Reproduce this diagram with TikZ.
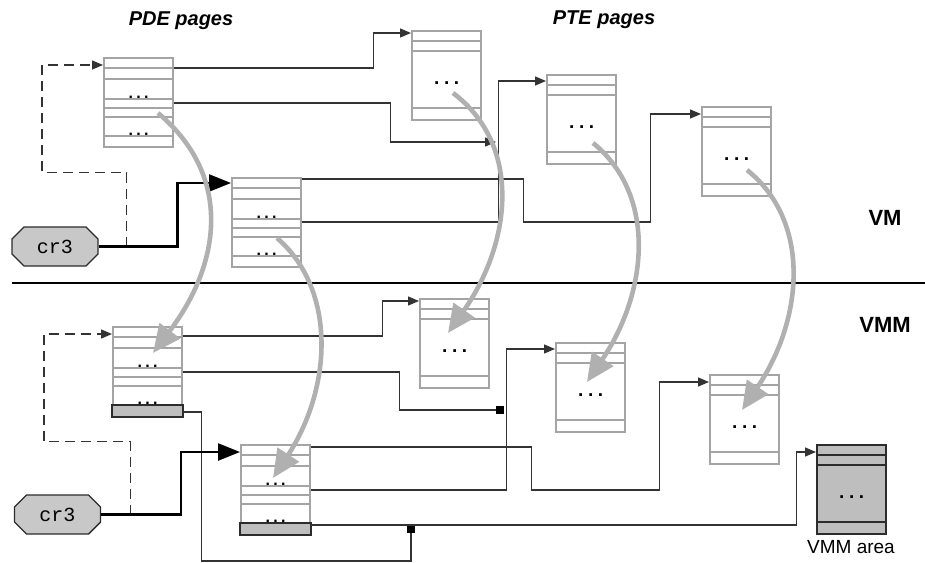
\documentclass[tikz,border=0pt]{standalone}
\usepackage{fontspec}
\newfontfamily\arialfont{Liberation Sans}
\newfontfamily\courfont{Liberation Mono}
\usetikzlibrary{arrows.meta,calc,shapes.misc}
\definecolor{boxgray}{HTML}{A4A4A4}
\definecolor{conngray}{HTML}{333333}
\definecolor{curvegray}{HTML}{B0B0B0}
\definecolor{fillgray}{HTML}{C8C8C8}
\definecolor{darkfill}{HTML}{BEBEBE}
\definecolor{darkline}{HTML}{2C2C2C}
\newcommand\mydots[1]{.\kern#1.\kern#1.}
\newcommand\pdepage[3]{%
  \node[page] (#1) at (#2,#3) {};
  \foreach \o in {11,22,42,51,60,79} \draw[pline] ($(#1.north west)+(0,\o)$) -- ($(#1.north east)+(0,\o)$);
  \node[pdedots] (#1a) at ($(#1.north)+(0,41.5)$) {\mydots{3.25pt}};
  \node[pdedots] (#1b) at ($(#1.north)+(0,78.5)$) {\mydots{3.25pt}};
}
\newcommand\ptepage[3]{%
  \node[page] (#1) at (#2,#3) {};
  \foreach \o in {11,21,78} \draw[pline] ($(#1.north west)+(0,\o)$) -- ($(#1.north east)+(0,\o)$);
  \node[ptedots] (#1a) at ($(#1.north)+(0,54)$) {\mydots{4.5pt}};
}
\begin{document}
\begin{tikzpicture}[x=1pt,y=-1pt,
  page/.style={draw=boxgray,line width=2.3pt,fill=white,minimum width=69pt,minimum height=89pt,inner sep=0pt,anchor=north west},
  vmmpage/.style={draw=darkline,line width=2.3pt,fill=darkfill,minimum width=69pt,minimum height=89pt,inner sep=0pt,anchor=north west},
  pline/.style={draw=boxgray,line width=2.3pt},
  dline/.style={draw=darkline,line width=2.3pt},
  darkrow/.style={draw=darkline,fill=darkfill,line width=2.3pt},
  pdedots/.style={font=\arialfont\bfseries\fontsize{16}{16}\selectfont,inner sep=0pt,anchor=base,text=black},
  ptedots/.style={font=\arialfont\bfseries\fontsize{19}{19}\selectfont,inner sep=0pt,anchor=base,text=black},
  conn/.style={draw=conngray,line width=1.4pt},
  thintip/.style={-{Triangle[length=11pt,width=9pt]}},
  thickconn/.style={draw=black,line width=2.5pt,-{Triangle[length=22pt,width=17pt]}},
  dashconn/.style={draw=conngray,line width=1.4pt,dash pattern=on 10pt off 6pt},
  jsq/.style={fill=black,minimum size=8pt,inner sep=0pt},
  cr3box/.style={chamfered rectangle,chamfered rectangle xsep=6pt,chamfered rectangle ysep=6pt,draw=darkline,line width=1.4pt,fill=fillgray,minimum width=86pt,minimum height=39pt,inner sep=0pt,font=\courfont\fontsize{20}{20}\selectfont},
  gcurve/.style={draw=curvegray,line width=4.6pt,-{Triangle[length=28pt,width=25pt]}},
  lblit/.style={font=\arialfont\bfseries\itshape\fontsize{20}{20}\selectfont,anchor=base,inner sep=0pt},
  lblbf/.style={font=\arialfont\bfseries\fontsize{22}{22}\selectfont,anchor=base,inner sep=0pt},
  lblrm/.style={font=\arialfont\fontsize{19}{19}\selectfont,anchor=base,inner sep=0pt}
]
\useasboundingbox (0,0) rectangle (925,562);

% labels
\node[lblit] (L1) at (181,25) {PDE pages};
\node[lblit] (L2) at (604,24) {PTE pages};
\node[lblbf] (L3) at (885,225) {VM};
\node[lblbf] (L4) at (885,332) {VMM};

% divider
\coordinate (DL) at (12,283);
\coordinate (DR) at (925,283);
\draw[line width=2.2pt] (DL) -- (DR);

% PDE pages
\pdepage{P1}{103}{57}
\pdepage{P2}{231}{177}
\pdepage{P3}{112}{326}
\draw[darkrow] ($(P3.north west)+(0,79)$) rectangle (P3.south east);
\pdepage{P4}{240}{444}
\draw[darkrow] ($(P4.north west)+(0,79)$) rectangle (P4.south east);

% PTE pages
\ptepage{T1}{411}{30}
\ptepage{T2}{546}{74}
\ptepage{T3}{701}{106}
\ptepage{T4}{419}{298}
\ptepage{T5}{555}{342}
\ptepage{T6}{709}{374}

% VMM area
\node[vmmpage] (VA) at (816,444) {};
\foreach \o in {11,21,78} \draw[dline] ($(VA.north west)+(0,\o)$) -- ($(VA.north east)+(0,\o)$);
\node[ptedots] (VAa) at ($(VA.north)+(0,54)$) {\mydots{4.5pt}};
\node[lblrm] (L5) at (851,553) {VMM area};

% cr3 registers
\node[cr3box] (C1) at (55,246.5) {cr3};
\node[cr3box] (C2) at (57.5,514.5) {cr3};

% VM connectors
\draw[conn,thintip] ($(P1.north east)+(0,11)$) -- ++(199,0) |- ($(T1.north west)+(0,3)$);
\coordinate (J1) at (496,142);
\draw[conn,thintip] ($(P1.north east)+(0,46)$) -- ++(216,0) |- (J1);
\draw[conn,thintip] ($(P2.north east)+(0,45)$) -- ++(196,0) |- ($(T2.north west)+(0,7)$);
\draw[conn,thintip] ($(P2.north east)+(0,2)$) -- ++(221,0) -- ++(0,43) -- ++(127,0) |- ($(T3.north west)+(0,8)$);

% VMM connectors
\draw[conn,thintip] ($(P3.north east)+(0,10)$) -- ++(199,0) |- ($(T4.north west)+(0,3)$);
\node[jsq] (J2) at (500,410) {};
\draw[conn] ($(P3.north east)+(0,46)$) -- ++(216,0) |- (J2);
\draw[conn,thintip] ($(P4.north east)+(0,46)$) -- ++(195,0) |- ($(T5.north west)+(0,7)$);
\draw[conn,thintip] ($(P4.north east)+(0,3)$) -- ++(220,0) -- ++(0,43) -- ++(128,0) |- ($(T6.north west)+(0,8)$);
\node[jsq] (J3) at (411,529) {};
\draw[conn,thintip] ($(P4.north east)+(0,81)$) -- ++(485,0) |- ($(VA.north west)+(0,8)$);
\draw[conn] ($(P3.north east)+(0,86)$) -- ++(18,0) -- ++(0,149) -| (J3);

% cr3 links
\draw[dashconn,thintip] ($(C1.east)+(28,0)$) -- ++(0,-74) -| ($(P1.north west)+(-61,8)$) -- ($(P1.north west)+(0,8)$);
\draw[dashconn,thintip] ($(C2.east)+(29,0)$) -- ++(0,-73) -| ($(P3.north west)+(-68,8)$) -- ($(P3.north west)+(0,8)$);
\draw[thickconn] (C1.east) -- ++(79,0) |- ($(P2.north west)+(0,6)$);
\draw[thickconn] (C2.east) -- ++(80,0) |- ($(P4.north west)+(0,8)$);

% gray mapping curves
\draw[gcurve] ($(P1.north west)+(55,56)$) .. controls (232,175) and (222,262) .. ($(P3.north west)+(41,27)$);
\draw[gcurve] ($(P2.north west)+(46,61)$) .. controls (337,290) and (332,388) .. ($(P4.north west)+(33,34)$);
\draw[gcurve] ($(T1.north west)+(42,63)$) .. controls (522,145) and (512,242) .. ($(T4.north west)+(29,35)$);
\draw[gcurve] ($(T2.north west)+(47,69)$) .. controls (657,195) and (648,292) .. ($(T5.north west)+(32,40)$);
\draw[gcurve] ($(T3.north west)+(46,64)$) .. controls (812,222) and (803,320) .. ($(T6.north west)+(33,36)$);
\end{tikzpicture}
\end{document}
